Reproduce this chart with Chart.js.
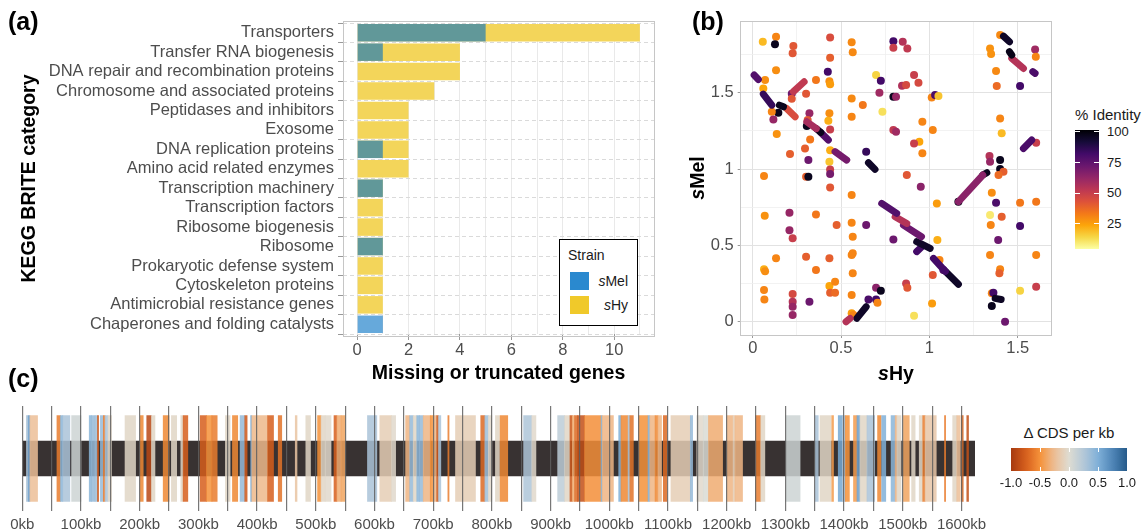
<!DOCTYPE html>
<html><head><meta charset="utf-8">
<script src="https://cdn.jsdelivr.net/npm/chart.js@4.4.0/dist/chart.umd.min.js"></script>
<style>
body{margin:0;background:#fff;font-family:"Liberation Sans",Arial,Helvetica,sans-serif;}
#wrap{position:relative;width:1145px;height:531px;overflow:hidden;background:#fff;}
canvas{position:absolute;}
.plbl{position:absolute;font-weight:bold;font-size:25px;line-height:26px;color:#000;}
.frame{position:absolute;border:1px solid #c6c6c6;box-sizing:border-box;pointer-events:none;}
.t{position:absolute;white-space:nowrap;}
</style></head>
<body><div id="wrap">
<canvas id="ca" width="670" height="392" style="left:0;top:0"></canvas>
<canvas id="cb" width="380" height="392" style="left:680px;top:0"></canvas>
<canvas id="cc" width="1000" height="136" style="left:0;top:395px"></canvas>

<div class="frame" style="left:343px;top:21px;width:312px;height:316px"></div>
<div class="frame" style="left:740px;top:21px;width:312px;height:315px"></div>

<div class="plbl" style="left:8px;top:8px">(a)</div>
<div class="plbl" style="left:692px;top:8px">(b)</div>
<div class="plbl" style="left:8px;top:365px">(c)</div>

<!-- legend a -->
<div style="position:absolute;left:559px;top:239px;width:79px;height:87px;border:1.5px solid #000;box-sizing:border-box;background:#fff;font-size:14px;color:#1a1a1a">
  <div class="t" style="left:8px;top:7px">Strain</div>
  <div style="position:absolute;left:10px;top:32px;width:19px;height:18px;background:#2a89cf"></div>
  <div class="t" style="right:9px;top:33px"><i>s</i>Mel</div>
  <div style="position:absolute;left:10px;top:56px;width:19px;height:18px;background:#f0c92a"></div>
  <div class="t" style="right:9px;top:57px"><i>s</i>Hy</div>
</div>

<!-- axis titles b -->
<div class="t" style="left:846px;top:361px;width:100px;text-align:center;font-weight:bold;font-size:19.5px;line-height:24px"><i>s</i>Hy</div>
<div class="t" style="left:647px;top:166px;width:100px;text-align:center;font-weight:bold;font-size:19.5px;line-height:24px;transform:rotate(-90deg)"><i>s</i>Mel</div>

<!-- colorbar b -->
<div class="t" style="left:1075px;top:106px;font-size:15px;color:#1a1a1a">% Identity</div>
<div id="cbarB" style="position:absolute;left:1075px;top:130px;width:24px;height:119px"></div>
<div id="cbarBticks"></div>

<!-- colorbar c -->
<div class="t" style="left:1009px;top:424px;width:120px;text-align:center;font-size:15px;color:#1a1a1a">Δ CDS per kb</div>
<div id="cbarC" style="position:absolute;left:1011px;top:448px;width:116px;height:23px"></div>
<div id="cbarCticks"></div>

</div>
<script>
// ---------------- Panel (a) data ----------------
const keggCategories = ["Transporters","Transfer RNA biogenesis","DNA repair and recombination proteins","Chromosome and associated proteins","Peptidases and inhibitors","Exosome","DNA replication proteins","Amino acid related enzymes","Transcription machinery","Transcription factors","Ribosome biogenesis","Ribosome","Prokaryotic defense system","Cytoskeleton proteins","Antimicrobial resistance genes","Chaperones and folding catalysts"];
const sMelMissing = [5,1,0,0,0,0,1,0,1,0,0,1,0,0,0,1];
const sHyMissing  = [11,4,4,3,2,2,2,2,1,1,1,1,1,1,1,0];
const xTicksA = [0,1,2,3,4,5,6,7,8,9,10,11];

// ---------------- Panel (b) data ----------------
const ptX = [0.057,0.132,0.126,0.23,0.226,0.438,0.56,0.566,0.796,0.849,0.796,0.875,1.40,1.343,1.349,1.598,1.602,0.438,0.132,0.425,0.07,0.06,0.221,0.221,0.358,0.302,0.434,0.438,0.698,0.725,0.717,0.845,0.868,0.913,0.938,1.013,1.032,1.051,1.377,1.381,1.513,0.145,0.108,0.117,0.136,0.211,0.296,0.321,0.311,0.306,0.325,0.315,0.302,0.315,0.56,0.623,0.56,0.434,0.428,0.438,0.438,0.434,0.438,0.438,0.438,0.734,0.796,0.811,0.796,0.811,0.642,0.96,1.019,0.943,0.913,0.96,0.872,0.951,1.40,1.409,1.604,1.34,1.343,1.40,1.40,1.419,1.391,1.164,0.064,0.56,1.042,1.353,1.377,1.513,1.604,0.068,0.208,0.208,0.226,0.358,0.475,0.56,0.566,0.642,0.796,1.045,1.343,1.409,1.347,1.389,1.513,1.604,0.132,0.302,0.434,0.358,0.064,0.07,0.56,0.566,0.566,1.079,1.057,1.019,1.343,1.40,1.396,1.513,1.604,0.064,0.066,0.226,0.226,0.226,0.226,0.321,0.434,0.466,0.438,0.466,0.56,0.56,0.57,0.655,0.698,0.725,0.698,0.706,0.868,0.875,0.913,1.015,1.353,1.362,1.353,1.428];
const ptY = [1.834,1.867,1.817,1.806,1.758,1.862,1.83,1.765,1.838,1.834,1.795,1.79,1.878,1.79,1.753,1.784,1.736,1.729,1.648,1.638,1.583,1.528,1.493,1.46,1.583,1.493,1.576,1.555,1.616,1.579,1.5,1.546,1.55,1.616,1.566,1.469,1.485,1.478,1.642,1.544,1.544,1.369,1.376,1.325,1.229,1.098,1.135,1.365,1.321,1.282,1.194,1.059,0.95,0.95,1.463,1.419,1.343,1.365,1.317,1.26,1.124,1.048,0.998,0.967,0.88,1.376,1.474,1.474,1.256,1.245,1.114,1.31,1.256,1.179,1.168,1.103,0.961,0.884,1.332,1.234,1.172,1.085,1.048,1.059,1.0,0.982,0.961,0.786,0.954,0.83,0.775,0.845,0.779,0.779,0.786,0.695,0.714,0.6,0.546,0.703,0.633,0.648,0.557,0.633,0.539,0.535,0.699,0.688,0.633,0.535,0.627,0.437,0.415,0.426,0.415,0.338,0.343,0.33,0.437,0.317,0.448,0.338,0.404,0.306,0.437,0.343,0.317,0.203,0.229,0.207,0.146,0.181,0.131,0.098,0.044,0.131,0.234,0.262,0.19,0.19,0.175,0.055,0.044,0.146,0.223,0.203,0.146,0.124,0.251,0.223,0.039,0.12,0.186,0.19,0.103,0.0];
const ptId = [20,31,97,42,42,45,30,30,82,55,50,52,30,28,28,60,31,40,29,82,29,24,72,42,34,42,29,26,15,82,60,56,46,50,46,31,80,18,30,37,82,97,31,62,28,40,40,62,42,97,34,72,40,97,30,34,31,29,22,50,22,18,50,70,42,12,97,62,52,60,85,31,31,24,50,31,42,65,31,20,50,55,62,97,97,40,37,98,31,31,26,29,80,34,34,28,62,62,50,34,40,31,31,72,72,22,10,40,31,72,82,31,31,40,40,34,22,29,31,31,31,78,31,42,31,31,40,15,50,31,31,46,55,62,62,72,24,31,40,37,31,26,31,80,65,97,82,31,50,42,12,26,31,82,97,72];
const segX0 = [1.419,1.453,1.466,1.585,0.008,0.23,0.06,0.151,0.192,0.306,0.36,0.385,0.466,0.655,1.164,1.302,1.532,0.73,0.806,0.853,0.928,0.928,1.023,1.09,0.528,0.589,1.372];
const segY0 = [1.871,1.769,1.725,1.638,1.616,1.507,1.491,1.419,1.397,1.31,1.265,1.24,1.114,1.041,0.786,0.961,1.135,0.775,0.688,0.633,0.524,0.459,0.415,0.33,0.0,0.022,0.153];
const segX1 = [1.453,1.466,1.532,1.598,0.032,0.291,0.108,0.174,0.24,0.36,0.385,0.428,0.532,0.692,1.302,1.325,1.579,0.815,0.872,0.955,1.004,0.957,1.09,1.164,0.551,0.642,1.406];
const segY1 = [1.834,1.747,1.659,1.627,1.587,1.572,1.419,1.408,1.343,1.265,1.24,1.19,1.059,0.998,0.961,0.976,1.19,0.71,0.644,0.557,0.48,0.491,0.33,0.245,0.022,0.098,0.146];
const segId = [95,98,55,80,78,52,85,97,45,58,97,78,70,95,65,97,80,78,55,72,95,82,82,95,55,95,96];
const bTicksX = [0,0.25,0.5,0.75,1,1.25,1.5];
const bTicksY = [0,0.25,0.5,0.75,1,1.25,1.5,1.75];
const identityLabels = [100,75,50,25];

// ---------------- Panel (c) data ----------------
const genomeLengthKb = 1623;
const bandStart = [7,10,13,59,65,69,84,114,118,124,128,133,138,141,146,175,201,212,220,240,254,270,274,303,314,323,346,358,371,379,389,391,418,436,465,483,503,509,516,531,536,543,588,609,629,653,660,666,672,677,683,695,700,706,709,725,738,781,788,794,806,814,854,868,912,924,933,937,941,946,958,986,988,1016,1020,1032,1035,1050,1066,1069,1078,1083,1092,1105,1138,1149,1160,1169,1200,1211,1214,1249,1258,1301,1351,1359,1379,1390,1397,1402,1416,1422,1427,1439,1457,1464,1480,1487,1490,1501,1515,1528,1534,1538,1571,1585,1592,1600,1609];
const bandEnd   = [10,13,26,65,69,81,100,118,124,128,130,138,141,146,152,193,206,220,226,250,263,274,282,314,323,332,354,367,379,383,391,418,428,442,468,491,509,516,526,536,543,550,604,629,636,660,666,672,677,683,695,700,706,709,713,727,772,788,794,800,813,827,868,875,924,933,937,941,946,958,986,988,1007,1020,1032,1035,1041,1066,1069,1078,1083,1089,1098,1138,1142,1160,1169,1193,1211,1214,1227,1258,1265,1325,1356,1378,1382,1397,1402,1409,1422,1427,1439,1452,1463,1471,1487,1490,1497,1511,1521,1534,1538,1557,1573,1592,1598,1603,1612];
const bandDelta = [0.3,0.6,-0.25,-0.6,0.45,0.3,0.1,0.45,0.4,0.35,-0.8,0.4,-0.6,0.3,-0.05,-0.05,-0.55,-0.9,-0.05,-0.55,-0.05,-0.05,-0.75,-0.75,-0.5,-0.6,-0.05,-0.55,0.4,-0.8,0.55,-0.28,-0.75,-0.65,-0.2,-0.05,-0.5,-0.05,-0.03,-0.75,-0.35,-0.4,0.3,-0.12,-0.03,-0.3,0.4,-0.05,0.45,0.4,-0.3,-0.5,-0.3,-0.8,0.3,-0.6,-0.12,-0.7,0.35,-0.03,-0.05,-0.55,0.28,-0.03,0.2,-0.05,-0.8,-0.35,-0.7,-0.85,-0.52,0.5,-0.3,0.5,-0.55,0.3,-0.65,-0.5,0.5,-0.3,-0.55,-0.3,-0.7,-0.12,0.4,-0.03,0.03,-0.35,-0.3,-0.1,-0.3,-0.6,-0.05,0.1,0.3,-0.05,-0.45,0.55,0.3,-0.5,-0.45,0.6,-0.05,0.3,-0.55,0.5,0.45,-0.3,-0.05,-0.4,-0.05,-0.05,-0.6,-0.18,-0.6,-0.05,-0.25,-0.7,-0.85];
const cTicks = [];
for (let v = 0; v <= 1600; v += 50) cTicks.push(v);
const deltaLabels = [-1.0,-0.5,0.0,0.5,1.0];

// ---------------- colour helpers ----------------
const infernoStops = ["#000004","#160b39","#420a68","#6a176e","#932667","#bc3754","#dd513a","#f37819","#fca50a","#f6d746","#fcffa4"];
const divStops = [[-1,[166,58,16]],[-0.75,[214,94,28]],[-0.5,[245,146,58]],[-0.25,[236,190,150]],[0,[222,220,210]],[0.25,[180,200,216]],[0.5,[128,176,216]],[0.75,[79,134,184]],[1,[38,90,138]]];
function hex2rgb(h){return [parseInt(h.slice(1,3),16),parseInt(h.slice(3,5),16),parseInt(h.slice(5,7),16)];}
function inferno(id){
  let t = (101.6 - id) / 97; t = Math.max(0, Math.min(1, t));
  const p = t * 10, i = Math.min(9, Math.floor(p)), f = p - i;
  const a = hex2rgb(infernoStops[i]), b = hex2rgb(infernoStops[i+1]);
  return `rgb(${a.map((c,k)=>Math.round(c+(b[k]-c)*f)).join(',')})`;
}
function deltaColor(v, alpha){
  let k = 0; while (k < divStops.length-2 && v > divStops[k+1][0]) k++;
  const [v0,c0] = divStops[k], [v1,c1] = divStops[k+1];
  const f = Math.max(0, Math.min(1, (v - v0)/(v1 - v0)));
  return `rgba(${c0.map((c,j)=>Math.round(c+(c1[j]-c)*f)).join(',')},${alpha})`;
}

const tickFont = {family:'"Liberation Sans", Arial, sans-serif', size:16.5};
const tickFontC = {family:'"Liberation Sans", Arial, sans-serif', size:15};
const tickColor = '#4d4d4d';
Chart.defaults.font.family = '"Liberation Sans", Arial, sans-serif';

// ---------------- Panel (a) chart ----------------
new Chart(document.getElementById('ca'), {
  type:'bar',
  data:{
    labels: keggCategories,
    datasets:[
      {label:'sMel', data:sMelMissing, backgroundColor:'rgba(0,112,195,0.6)', grouped:false, barPercentage:0.9, categoryPercentage:1},
      {label:'sHy', data:sHyMissing, backgroundColor:'#f3d55a', grouped:false, barPercentage:0.9, categoryPercentage:1}
    ]
  },
  options:{
    indexAxis:'y', responsive:false, animation:false, devicePixelRatio:1,
    layout:{padding:{left:13, top:23, right:16, bottom:0}},
    plugins:{legend:{display:false}, tooltip:{enabled:false}},
    scales:{
      x:{type:'linear', min:-0.55, max:11.55,
        afterBuildTicks: ax => { ax.ticks = xTicksA.map(v => ({value:v})); },
        ticks:{callback: v => (v % 2 === 0 ? String(v) : ''), font:tickFont, color:tickColor, padding:1, autoSkip:false, maxRotation:0},
        grid:{color:'#e9e9e9', tickColor: c => (c.tick && c.tick.value % 2 === 0 ? '#999' : 'rgba(0,0,0,0)'), tickLength:6},
        border:{display:false},
        title:{display:true, text:'Missing or truncated genes', color:'#000', font:{size:19.5, weight:'bold'}, padding:{top:0, bottom:7}},
        afterFit: ax => { ax.height = 392 - 334; }
      },
      y:{
        ticks:{font:tickFont, color:tickColor, padding:4, autoSkip:false},
        grid:{color:'#dadada', tickColor:'#999', tickLength:5},
        border:{display:false, dash:[4,3]},
        title:{display:true, text:'KEGG BRITE category', color:'#000', font:{size:19.5, weight:'bold'}, padding:{top:5, bottom:0}},
        afterFit: ax => { ax.width = 343 - 13; }
      }
    }
  }
});

// ---------------- Panel (b) chart ----------------
const dsB = [];
segX0.forEach((x0, i) => {
  dsB.push({type:'line', data:[{x:x0, y:segY0[i]}, {x:segX1[i], y:segY1[i]}], borderColor:inferno(segId[i]), borderWidth:7, borderCapStyle:'round', pointRadius:0, fill:false, showLine:true});
});
dsB.push({type:'scatter', data:ptX.map((x, i) => ({x:x, y:ptY[i]})), backgroundColor:ptId.map(inferno), pointRadius:4, pointBorderWidth:0, borderWidth:0});

const majorB = v => Math.abs(v*2 - Math.round(v*2)) < 1e-9;
new Chart(document.getElementById('cb'), {
  type:'scatter',
  data:{datasets:dsB},
  options:{
    responsive:false, animation:false, devicePixelRatio:1,
    layout:{padding:{left:10, top:21, right:9, bottom:0}},
    plugins:{legend:{display:false}, tooltip:{enabled:false}},
    scales:{
      x:{type:'linear', min:-0.068, max:1.688,
        afterBuildTicks: ax => { ax.ticks = bTicksX.map(v => ({value:v})); },
        ticks:{callback: v => (majorB(v) ? String(v) : ''), font:tickFont, color:tickColor, padding:1, autoSkip:false, maxRotation:0},
        grid:{color: c => (c.tick && majorB(c.tick.value) ? '#e2e2e2' : '#efefef'), lineWidth: c => (c.tick && majorB(c.tick.value) ? 1 : 0.8), tickColor: c => (c.tick && majorB(c.tick.value) ? '#999' : 'rgba(0,0,0,0)'), tickLength:3},
        border:{display:false},
        afterFit: ax => { ax.height = 392 - 335; }
      },
      y:{type:'linear', min:-0.087, max:1.97,
        afterBuildTicks: ax => { ax.ticks = bTicksY.map(v => ({value:v})); },
        ticks:{callback: v => (majorB(v) ? String(v) : ''), font:tickFont, color:tickColor, padding:4, autoSkip:false},
        grid:{color: c => (c.tick && majorB(c.tick.value) ? '#e2e2e2' : '#efefef'), lineWidth: c => (c.tick && majorB(c.tick.value) ? 1 : 0.8), tickColor: c => (c.tick && majorB(c.tick.value) ? '#999' : 'rgba(0,0,0,0)'), tickLength:3},
        border:{display:false},
        afterFit: ax => { ax.width = 60.7 - 10; }
      }
    }
  }
});

// colourbar b
(function(){
  const stops = infernoStops.map((c, i) => `${c} ${i*10}%`).join(',');
  document.getElementById('cbarB').style.background = `linear-gradient(to bottom, ${stops})`;
  let html = '';
  identityLabels.forEach(v => {
    const y = 130 + (101.6 - v) / 97 * 119;
    html += `<div style="position:absolute;left:1075px;top:${y-0.5}px;width:5px;height:1px;background:#fff"></div>`;
    html += `<div style="position:absolute;left:1094px;top:${y-0.5}px;width:5px;height:1px;background:#fff"></div>`;
    html += `<div class="t" style="left:1107px;top:${y-8}px;font-size:13px;line-height:16px;color:#1a1a1a">${v}</div>`;
  });
  document.getElementById('cbarBticks').innerHTML = html;
})();

// ---------------- Panel (c) chart ----------------
new Chart(document.getElementById('cc'), {
  type:'bar',
  data:{
    labels:['genome'],
    datasets:[
      {label:'bands', data:bandStart.map((s, i) => ({x:[s, bandEnd[i]], y:'genome'})), backgroundColor:bandDelta.map(v => deltaColor(v, 0.85)), grouped:false, barThickness:86, borderWidth:0},
      {label:'genome', data:[{x:[0, genomeLengthKb], y:'genome'}], backgroundColor:'#383232', grouped:false, barThickness:35, borderWidth:0}
    ]
  },
  options:{
    indexAxis:'y', responsive:false, animation:false, devicePixelRatio:1,
    layout:{padding:{left:22.3, top:11, right:25, bottom:0}},
    plugins:{legend:{display:false}, tooltip:{enabled:false}},
    scales:{
      x:{type:'linear', min:0, max:genomeLengthKb,
        afterBuildTicks: ax => { ax.ticks = cTicks.map(v => ({value:v})); },
        ticks:{callback: v => (v % 100 === 0 ? v + 'kb' : ''), font:tickFontC, color:tickColor, padding:5, autoSkip:false, maxRotation:0},
        grid:{color:'rgba(95,95,95,0.85)', lineWidth:1.2, drawTicks:false, z:1},
        border:{display:false},
        afterFit: ax => { ax.height = 136 - 116; }
      },
      y:{display:false}
    }
  }
});

// colourbar c
(function(){
  const n = 20; const parts = [];
  for (let i = 0; i <= n; i++) { const v = -1 + 2*i/n; parts.push(`${deltaColor(v,1)} ${i/n*100}%`); }
  document.getElementById('cbarC').style.background = `linear-gradient(to right, ${parts.join(',')})`;
  let html = '';
  deltaLabels.forEach(v => {
    const x = 1011 + (v + 1) / 2 * 116;
    if (v > -1 && v < 1) {
      html += `<div style="position:absolute;left:${x-0.5}px;top:448px;width:1px;height:4px;background:#fff"></div>`;
      html += `<div style="position:absolute;left:${x-0.5}px;top:467px;width:1px;height:4px;background:#fff"></div>`;
    }
    html += `<div class="t" style="left:${x-20}px;width:40px;text-align:center;top:475px;font-size:13px;line-height:16px;color:#1a1a1a">${v.toFixed(1)}</div>`;
  });
  document.getElementById('cbarCticks').innerHTML = html;
})();
</script>
</body></html>
